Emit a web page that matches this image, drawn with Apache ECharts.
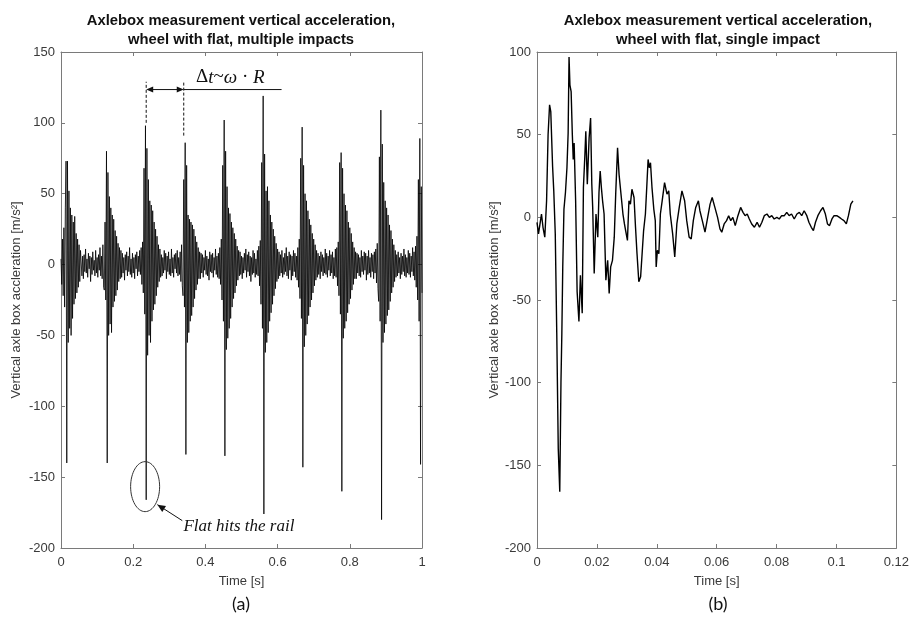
<!DOCTYPE html>
<html>
<head>
<meta charset="utf-8">
<script src="https://cdn.jsdelivr.net/npm/echarts@6/dist/echarts.min.js"></script>
<style>html,body{margin:0;padding:0;background:#fff}#c{width:912px;height:617px}</style>
</head>
<body>
<div id="c"></div>
<script>
const leftDt = 0.002;
const leftAccel = [
  4,-14,18,-22,26,-30,40,73,-140,73,-55,52,-45,40,-50,35,-38,30,-28,34,-24,22,-20,18,-16,14,-12,10,
  9,-8,6,-10,7,-5,11,-6,4,-9,8,-3,6,-12,5,-7,9,-4,3,-8,10,-6,5,-9,7,-4,12,-8,6,-10,14,-16,
  -18,30,-25,80,-140,65,-50,48,-42,40,-48,35,-30,32,-26,24,-22,20,-18,15,-12,12,-10,
  10,-9,8,-6,5,-11,7,-4,9,-8,6,-5,12,-7,4,-9,8,-6,5,-10,7,-3,9,-8,6,-5,10,-7,12,-14,16,
  -20,68,-35,98,-166,82,-64,60,-50,45,-55,42,-40,38,-32,30,-28,25,-22,20,-16,14,-12,
  11,-9,7,-8,5,-6,10,-4,8,-10,6,-5,9,-7,4,-8,11,-6,5,-9,7,-3,8,-6,10,-8,5,-7,9,-12,14,-15,
  -22,60,-30,86,-134,70,-55,35,-48,32,-40,30,-36,28,-30,25,-24,20,-18,16,-14,12,-10,
  9,-10,8,-6,7,-9,5,-4,10,-7,6,-8,4,-11,9,-5,7,-6,8,-9,5,-4,11,-7,6,-9,8,-10,12,-14,18,
  -25,70,-40,102,-135,80,-60,55,-52,40,-45,36,-38,30,-30,26,-24,22,-20,18,-15,13,-11,
  10,-8,9,-7,6,-10,5,-6,8,-4,11,-9,7,-5,9,-8,6,-12,5,-7,10,-6,8,-9,4,-7,10,-8,13,-15,17,
  -28,72,-45,119,-176,78,-62,52,-55,55,-48,45,-40,35,-34,30,-28,25,-22,20,-17,15,-12,
  11,-10,9,-8,7,-6,10,-9,5,-7,8,-5,12,-8,6,-10,9,-4,7,-11,6,-8,10,-5,8,-9,6,-11,12,-16,18,
  -24,75,-38,97,-143,70,-58,50,-50,45,-42,38,-36,32,-30,28,-25,22,-20,18,-15,14,-11,
  10,-9,8,-7,6,-10,9,-5,7,-8,5,-6,11,-7,8,-9,6,-4,10,-8,7,-6,9,-10,5,-8,11,-9,12,-15,16,
  -22,72,-35,79,-160,68,-52,50,-45,42,-40,38,-34,30,-28,26,-24,22,-18,16,-14,12,-10,
  9,-10,8,-6,7,-8,5,-9,10,-5,6,-7,9,-4,8,-11,6,-7,10,-6,5,-9,8,-5,7,-10,9,-6,11,-13,15,-17,
  -26,76,-40,109,-180,85,-55,58,-48,45,-42,40,-36,35,-32,28,-26,24,-20,18,-16,14,-12,
  10,-9,7,-8,9,-6,5,-10,8,-7,6,-5,11,-8,7,-9,5,-6,10,-7,8,-9,6,-5,12,-8,9,-11,13,-16,20,
  -25,60,-40,89,-141,55,-20
];

// ---- (b) single impact: times [s] and values [m/s²] ----
const rightTime = [
  0,0.0005,0.001,0.0015,0.002,0.0026,0.0032,0.0037,0.0042,0.0046,
  0.0052,0.0056,0.0061,0.0066,0.0071,0.0076,0.008,0.0083,0.0086,0.009,
  0.0095,0.01,0.0104,0.0107,0.011,0.0114,0.0118,0.0121,0.0124,0.0129,
  0.0134,0.014,0.0145,0.0151,0.0155,0.016,0.0163,0.0168,0.0174,0.0179,
  0.0183,0.0186,0.0191,0.0197,0.0203,0.0207,0.0211,0.0215,0.0219,0.0224,
  0.023,0.0236,0.0241,0.0246,0.0252,0.0258,0.0263,0.0269,0.0274,0.028,
  0.0287,0.0292,0.0296,0.0302,0.0307,0.0312,0.0317,0.0324,0.0329,0.0334,
  0.034,0.0346,0.0351,0.0356,0.0362,0.0367,0.0371,0.0375,0.0379,0.0384,
  0.039,0.0395,0.0398,0.0402,0.0407,0.0412,0.0418,0.0426,0.0434,0.044,
  0.0445,0.0453,0.046,0.0467,0.0475,0.0484,0.0493,0.05,0.0508,0.0515,
  0.0522,0.053,0.0539,0.0544,0.0552,0.0561,0.057,0.0578,0.0585,0.0594,
  0.0603,0.0611,0.0617,0.0625,0.0633,0.064,0.0647,0.0654,0.0662,0.0671,
  0.068,0.0688,0.0695,0.0702,0.0709,0.0717,0.0726,0.0735,0.0743,0.0751,
  0.0759,0.0768,0.0776,0.0784,0.0792,0.0801,0.0809,0.0817,0.0826,0.0834,
  0.0842,0.085,0.0859,0.0868,0.0876,0.0884,0.0892,0.0901,0.0908,0.0916,
  0.0923,0.093,0.0938,0.0947,0.0955,0.0963,0.097,0.0977,0.0985,0.0992,
  0.1001,0.101,0.1017,0.1025,0.1033,0.104,0.1048,0.1055
];
const rightAccel = [
  -3,-10,-9,2,-6,-12,10,50,68,64,
  31,16,-10,-70,-140,-166,-100,-70,-30,5,
  15,30,51,97,80,76,50,35,45,10,
  -45,-63,-35,-58,18,38,52,20,48,60,
  20,6,-34,2,-12,15,28,18,10,2,
  -38,-26,-46,-30,-26,-12,15,42,26,27,
  2,-4,-8,-14,10,8,17,12,-6,-22,
  -39,-36,-22,-8,2,20,35,30,33,18,
  5,-2,-30,-20,-22,2,10,21,14,16,
  2,-10,-24,-4,6,16,10,-2,-12,-13,
  -2,6,10,4,-2,-9,0,8,12,6,
  0,-7,-9,-4,-2,1,-2,0,-5,1,
  6,3,1,2,-1,-4,-6,-3,-6,-3,
  1,2,0,1,-1,0,-1,1,1,3,
  1,2,-1,2,3,1,4,1,-3,-6,
  -8,-3,1,4,6,2,-4,-5,-1,1,
  1,0,-1,-2,-4,1,8,10
];

const leftTicksX = {min: 0, max: 1, interval: 0.2};
const rightTicksX = {min: 0, max: 0.12, interval: 0.02};
const leftTicksY = {min: -200, max: 150, interval: 50};
const rightTicksY = {min: -200, max: 100, interval: 50};
const titlesA = ['Axlebox measurement vertical acceleration,', 'wheel with flat, multiple impacts'];
const titlesB = ['Axlebox measurement vertical acceleration,', 'wheel with flat, single impact'];
const xName = 'Time [s]';
const yName = 'Vertical axle box accleration [m/s\u00B2]';

const leftData = leftAccel.map((v, i) => [i * leftDt, v]);
const rightData = rightTime.map((t, i) => [t, rightAccel[i]]);

const AX = '#7a7a7a', LBL = '#3a3a3a', FF = '"Liberation Sans", Arial, sans-serif';

function xAx(grid, ticks, pos, labels) {
  return {
    type: 'value', gridIndex: grid, position: pos, min: ticks.min, max: ticks.max, interval: ticks.interval,
    name: labels ? xName : '', nameLocation: 'middle', nameGap: 27,
    nameTextStyle: {color: LBL, fontSize: 13, fontFamily: FF},
    axisLine: {show: true, onZero: false, lineStyle: {color: AX, width: 1}},
    axisTick: {show: true, inside: true, length: 4, lineStyle: {color: AX}},
    axisLabel: {show: labels, color: LBL, fontSize: 13, fontFamily: FF, margin: 8},
    splitLine: {show: false}
  };
}
function yAx(grid, ticks, pos, labels, gap) {
  return {
    type: 'value', gridIndex: grid, position: pos, min: ticks.min, max: ticks.max, interval: ticks.interval,
    name: labels ? yName : '', nameLocation: 'middle', nameGap: gap, nameRotate: 90,
    nameTextStyle: {color: LBL, fontSize: 13, fontFamily: FF},
    axisLine: {show: true, onZero: false, lineStyle: {color: AX, width: 1}},
    axisTick: {show: true, inside: true, length: 4, lineStyle: {color: AX}},
    axisLabel: {show: labels, color: LBL, fontSize: 13, fontFamily: FF, margin: 6},
    splitLine: {show: false}
  };
}

const chart = echarts.init(document.getElementById('c'), null, {renderer: 'canvas'});
const option = {
  animation: false,
  backgroundColor: '#fff',
  grid: [
    {left: 61, right: 490, top: 52, bottom: 69},
    {left: 537, right: 13, top: 52, bottom: 69}
  ],
  xAxis: [
    xAx(0, leftTicksX, 'bottom', true), xAx(0, leftTicksX, 'top', false),
    xAx(1, rightTicksX, 'bottom', true), xAx(1, rightTicksX, 'top', false)
  ],
  yAxis: [
    yAx(0, leftTicksY, 'left', true, 38), yAx(0, leftTicksY, 'right', false, 0),
    yAx(1, rightTicksY, 'left', true, 36), yAx(1, rightTicksY, 'right', false, 0)
  ],
  series: [
    {type: 'line', xAxisIndex: 0, yAxisIndex: 0, data: leftData, showSymbol: false, symbol: 'none',
     sampling: null, lineStyle: {color: '#000', width: 0.8}, z: 3},
    {type: 'line', xAxisIndex: 2, yAxisIndex: 2, data: rightData, showSymbol: false, symbol: 'none',
     lineStyle: {color: '#000', width: 1.4}, z: 3}
  ]
};
chart.setOption(option);

const P = (t, v) => chart.convertToPixel({xAxisIndex: 0, yAxisIndex: 0}, [t, v]);
function arrowHead(tip, from, len, half) {
  const dx = tip[0] - from[0], dy = tip[1] - from[1];
  const d = Math.hypot(dx, dy), ux = dx / d, uy = dy / d;
  const bx = tip[0] - ux * len, by = tip[1] - uy * len;
  return {type: 'polygon', shape: {points: [tip, [bx - uy * half, by + ux * half], [bx + uy * half, by - ux * half]]},
          style: {fill: '#111'}, z: 10};
}
const d1a = P(0.236, 100), d1b = P(0.236, 129);
const d2a = P(0.34, 91), d2b = P(0.34, 129);
const arL = P(0.236, 123.5), arR = P(0.34, 123.5), ul = P(0.611, 123.5);
const eqPos = P(0.469, 132);
const ell = P(0.233, -156.7);
const aTail = P(0.336, -180.7), aTip = P(0.267, -169.4);
const flatPos = P(0.339, -185);
const dash = {stroke: '#111', lineWidth: 1, lineDash: [3, 2]};
const TF = 'bold 14.8px ' + FF;
const graphic = [
  {type: 'text', x: 241, y: 21, style: {text: titlesA[0], font: TF, fill: '#111', align: 'center', verticalAlign: 'middle'}},
  {type: 'text', x: 241, y: 40, style: {text: titlesA[1], font: TF, fill: '#111', align: 'center', verticalAlign: 'middle'}},
  {type: 'text', x: 718, y: 21, style: {text: titlesB[0], font: TF, fill: '#111', align: 'center', verticalAlign: 'middle'}},
  {type: 'text', x: 718, y: 40, style: {text: titlesB[1], font: TF, fill: '#111', align: 'center', verticalAlign: 'middle'}},
  {type: 'text', x: 241, y: 604, style: {text: '(a)', font: '18px Lato, "Open Sans", sans-serif', fill: '#111', align: 'center', verticalAlign: 'middle'}},
  {type: 'text', x: 718, y: 604, style: {text: '(b)', font: '18px Lato, "Open Sans", sans-serif', fill: '#111', align: 'center', verticalAlign: 'middle'}},
  {type: 'line', shape: {x1: d1a[0], y1: d1a[1], x2: d1b[0], y2: d1b[1]}, style: dash, z: 10},
  {type: 'line', shape: {x1: d2a[0], y1: d2a[1], x2: d2b[0], y2: d2b[1]}, style: dash, z: 10},
  {type: 'line', shape: {x1: arL[0] + 5, y1: arL[1], x2: arR[0] - 5, y2: arR[1]}, style: {stroke: '#111', lineWidth: 1}, z: 10},
  arrowHead(arL, arR, 7, 3), arrowHead(arR, arL, 7, 3),
  {type: 'line', shape: {x1: arR[0], y1: ul[1], x2: ul[0], y2: ul[1]}, style: {stroke: '#111', lineWidth: 1}, z: 10},
  {type: 'text', x: eqPos[0], y: eqPos[1], style: {
     text: '{u|\u0394}{i|t}{u|~}{i|\u03C9}{u| \u00B7 }{i|R}', align: 'center', verticalAlign: 'middle', fill: '#111',
     rich: {
       u: {font: '19px "Liberation Serif", "DejaVu Serif", serif', fill: '#111'},
       i: {font: 'italic 19px "Liberation Serif", "DejaVu Serif", serif', fill: '#111'}
     }}, z: 10},
  {type: 'ellipse', shape: {cx: ell[0], cy: ell[1], rx: 14.5, ry: 25}, style: {fill: 'none', stroke: '#333', lineWidth: 1}, z: 10},
  {type: 'line', shape: {x1: aTail[0], y1: aTail[1], x2: aTip[0], y2: aTip[1]}, style: {stroke: '#111', lineWidth: 1}, z: 10},
  arrowHead(aTip, aTail, 8, 3.5),
  {type: 'text', x: flatPos[0], y: flatPos[1], style: {text: 'Flat hits the rail', font: 'italic 17px "Liberation Serif", "DejaVu Serif", serif', fill: '#111', align: 'left', verticalAlign: 'middle'}, z: 10}
];
chart.setOption({graphic: graphic});
</script>
</body>
</html>
